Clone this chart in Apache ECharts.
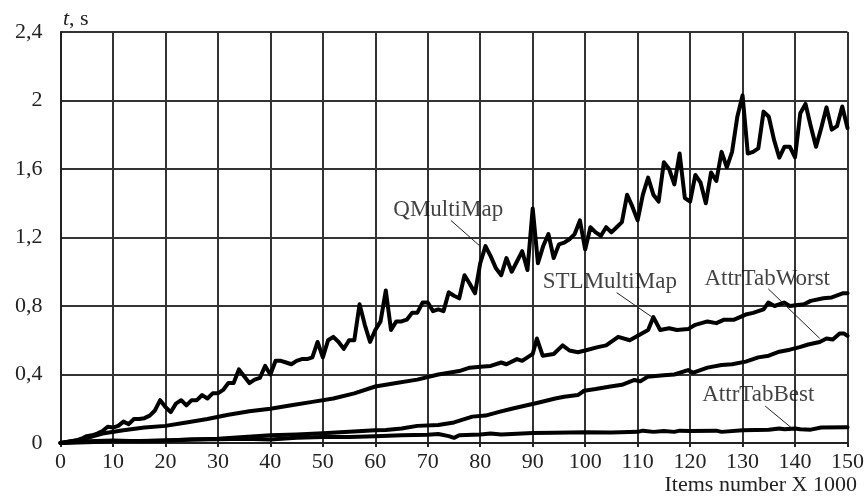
<!DOCTYPE html>
<html>

<head>
    <meta charset="utf-8" />
    <script src="https://cdn.jsdelivr.net/npm/echarts@6/dist/echarts.min.js"></script>
</head>

<body style="margin:0;background:#fff;">
    <div id="main" style="width: 867px;height:498px;"></div>
    <script type="text/javascript">
        // QMultiMap, one value per 1000 items (0..150)
        const qMultiMap = [
            0, 0.005, 0.01, 0.015, 0.025, 0.04, 0.045, 0.055, 0.07, 0.095,
            0.09, 0.10, 0.125, 0.11, 0.14, 0.14, 0.145, 0.16, 0.19, 0.25,
            0.21, 0.18, 0.23, 0.25, 0.22, 0.25, 0.25, 0.28, 0.26, 0.29,
            0.29, 0.31, 0.35, 0.35, 0.43, 0.39, 0.35, 0.37, 0.38, 0.45,
            0.40, 0.48, 0.48, 0.47, 0.46, 0.48, 0.49, 0.49, 0.50, 0.59,
            0.50, 0.60, 0.62, 0.59, 0.55, 0.60, 0.60, 0.81, 0.69, 0.59,
            0.66, 0.71, 0.89, 0.66, 0.71, 0.71, 0.72, 0.76, 0.76, 0.82,
            0.82, 0.77, 0.78, 0.77, 0.88, 0.86, 0.845, 0.98, 0.93, 0.874,
            1.05, 1.15, 1.09, 1.02, 0.98, 1.08, 1.00, 1.06, 1.12, 1.01,
            1.37, 1.05, 1.15, 1.22, 1.08, 1.16, 1.17, 1.19, 1.22, 1.30,
            1.13, 1.26, 1.23, 1.21, 1.26, 1.23, 1.26, 1.29, 1.45, 1.38,
            1.30, 1.45, 1.55, 1.45, 1.41, 1.64, 1.60, 1.51, 1.69, 1.43,
            1.41, 1.565, 1.52, 1.40, 1.58, 1.53, 1.70, 1.61, 1.70, 1.905,
            2.03, 1.69, 1.70, 1.72, 1.935, 1.905, 1.77, 1.666, 1.73, 1.73,
            1.668, 1.925, 1.98, 1.85, 1.73, 1.84, 1.96, 1.83, 1.85, 1.965,
            1.84
        ];

        const stlX = [0, 4, 8, 12, 16, 20, 24, 28, 32, 36, 40, 44, 48, 52, 56, 60, 64, 68, 72, 76,
            78, 80, 82, 84, 85, 87, 88, 89, 90, 90.8, 91.9, 94, 95.7, 97, 98.6, 100, 102.4, 104,
            106.3, 108.5, 110.8, 112, 113, 114.3, 116, 117.5, 119.6, 121, 123.3, 125, 126.5,
            128.4, 130.6, 132, 134, 134.9, 136.1, 137.9, 139, 141.7, 143, 145.4, 147, 149.2, 150];
        const stlY = [0, 0.02, 0.055, 0.075, 0.09, 0.10, 0.12, 0.14, 0.165, 0.185, 0.20, 0.22, 0.24,
            0.26, 0.29, 0.33, 0.35, 0.37, 0.40, 0.42, 0.44, 0.445, 0.45, 0.47, 0.46, 0.49, 0.48,
            0.50, 0.52, 0.61, 0.51, 0.52, 0.57, 0.54, 0.53, 0.54, 0.56, 0.57, 0.62, 0.60, 0.64,
            0.66, 0.735, 0.66, 0.67, 0.66, 0.665, 0.69, 0.71, 0.70, 0.72, 0.72, 0.75, 0.76, 0.78,
            0.82, 0.80, 0.82, 0.80, 0.81, 0.83, 0.845, 0.85, 0.875, 0.875];

        const worstX = [0, 5, 10, 15, 20, 25, 30, 35, 40, 45, 50, 55, 60, 62, 65, 68, 72, 75, 78.5,
            81, 83.8, 86, 88.9, 91, 94.3, 96, 98.6, 99.8, 102, 104.8, 107, 109.4, 110.5, 111.9,
            115, 117, 119.6, 120.5, 123.3, 126, 128, 130.6, 133, 135, 137, 139, 140.9, 142.5,
            144.7, 146, 147.2, 148.5, 149.3, 150];
        const worstY = [0, 0.01, 0.015, 0.01, 0.015, 0.02, 0.025, 0.035, 0.045, 0.05, 0.057, 0.065,
            0.075, 0.076, 0.085, 0.10, 0.105, 0.12, 0.154, 0.16, 0.183, 0.20, 0.22, 0.235, 0.26,
            0.27, 0.28, 0.305, 0.315, 0.33, 0.34, 0.368, 0.36, 0.387, 0.395, 0.40, 0.426, 0.41,
            0.44, 0.455, 0.46, 0.475, 0.50, 0.51, 0.533, 0.545, 0.56, 0.575, 0.59, 0.61, 0.605,
            0.64, 0.64, 0.625];

        const bestX = [0, 5, 10, 15, 20, 25, 30, 35, 40, 45, 50, 55, 60, 65, 70, 72, 74, 75, 76, 80,
            82, 84, 88, 90, 94, 100, 105, 110, 111, 113, 115, 117, 118, 120, 125, 126, 130, 135,
            137, 138, 140, 141, 143, 145, 150];
        const bestY = [0, 0.005, 0.01, 0.012, 0.015, 0.02, 0.022, 0.025, 0.02, 0.03, 0.035, 0.035,
            0.04, 0.045, 0.048, 0.053, 0.04, 0.03, 0.045, 0.05, 0.055, 0.05, 0.055, 0.058, 0.06,
            0.063, 0.062, 0.065, 0.072, 0.065, 0.07, 0.065, 0.072, 0.07, 0.072, 0.065, 0.075,
            0.077, 0.085, 0.08, 0.085, 0.08, 0.078, 0.09, 0.092];

        // callouts: name, label centre, leader start, leader end (data units)
        const labelNames = ['QMultiMap', 'STLMultiMap', 'AttrTabWorst', 'AttrTabBest'];
        const labelPos = [[73.9, 1.36], [104.7, 0.94], [134.7, 0.958], [133, 0.28]];
        const leaderFrom = [[74.4, 1.30], [106, 0.878], [134.9, 0.90], [134.3, 0.216]];
        const leaderTo = [[80.1, 1.146], [113, 0.73], [144.7, 0.611], [139.3, 0.089]];

        const FONT = '"Liberation Serif", "Times New Roman", serif';
        const zip = (xs, ys) => xs.map((x, i) => [x, ys[i]]);

        function curve(name, data) {
            return {
                name: name,
                type: 'line',
                data: data,
                showSymbol: false,
                symbol: 'none',
                lineStyle: { color: '#000', width: 4, join: 'round', cap: 'round' },
                z: 3
            };
        }

        const series = [
            curve('AttrTabBest', zip(bestX, bestY)),
            curve('AttrTabWorst', zip(worstX, worstY)),
            curve('STLMultiMap', zip(stlX, stlY)),
            curve('QMultiMap', qMultiMap.map((v, i) => [i, v]))
        ];

        leaderFrom.forEach((p, i) => {
            series.push({
                type: 'line',
                data: [p, leaderTo[i]],
                symbol: 'none',
                lineStyle: { color: '#222', width: 1 },
                z: 4
            });
        });

        series.push({
            type: 'scatter',
            symbolSize: 0,
            data: labelPos.map((p, i) => ({ value: p, name: labelNames[i] })),
            label: {
                show: true,
                position: 'inside',
                formatter: '{b}',
                fontFamily: FONT,
                fontSize: 23,
                color: '#111'
            },
            z: 5
        });

        const myChart = echarts.init(document.getElementById('main'));
        myChart.setOption({
            animation: false,
            backgroundColor: '#fff',
            grid: { left: 60.5, right: 18, top: 32, bottom: 55 },
            xAxis: {
                type: 'value',
                min: 0,
                max: 150,
                interval: 10,
                axisLine: { lineStyle: { color: '#222', width: 2 } },
                axisTick: { show: true, length: 4, lineStyle: { color: '#222', width: 2 } },
                axisLabel: { fontFamily: FONT, fontSize: 22, color: '#222', margin: 8 },
                splitLine: { lineStyle: { color: '#333', width: 2 } }
            },
            yAxis: {
                type: 'value',
                min: 0,
                max: 2.4,
                interval: 0.4,
                axisLine: { show: true, lineStyle: { color: '#222', width: 2 } },
                axisTick: { show: false },
                axisLabel: {
                    fontFamily: FONT,
                    fontSize: 22,
                    color: '#222',
                    margin: 18,
                    formatter: v => String(Math.round(v * 10) / 10).replace('.', ',')
                },
                splitLine: { lineStyle: { color: '#333', width: 2 } }
            },
            graphic: [
                {
                    type: 'text',
                    left: 63,
                    top: 8,
                    style: {
                        text: '{i|t}, s',
                        font: '22px ' + FONT,
                        fill: '#222',
                        rich: { i: { fontStyle: 'italic', fontFamily: FONT, fontSize: 22 } }
                    }
                },
                {
                    type: 'text',
                    right: 10,
                    top: 474,
                    style: { text: 'Items number X 1000', font: '22px ' + FONT, fill: '#222' }
                }
            ],
            series: series
        });
    </script>
</body>

</html>
